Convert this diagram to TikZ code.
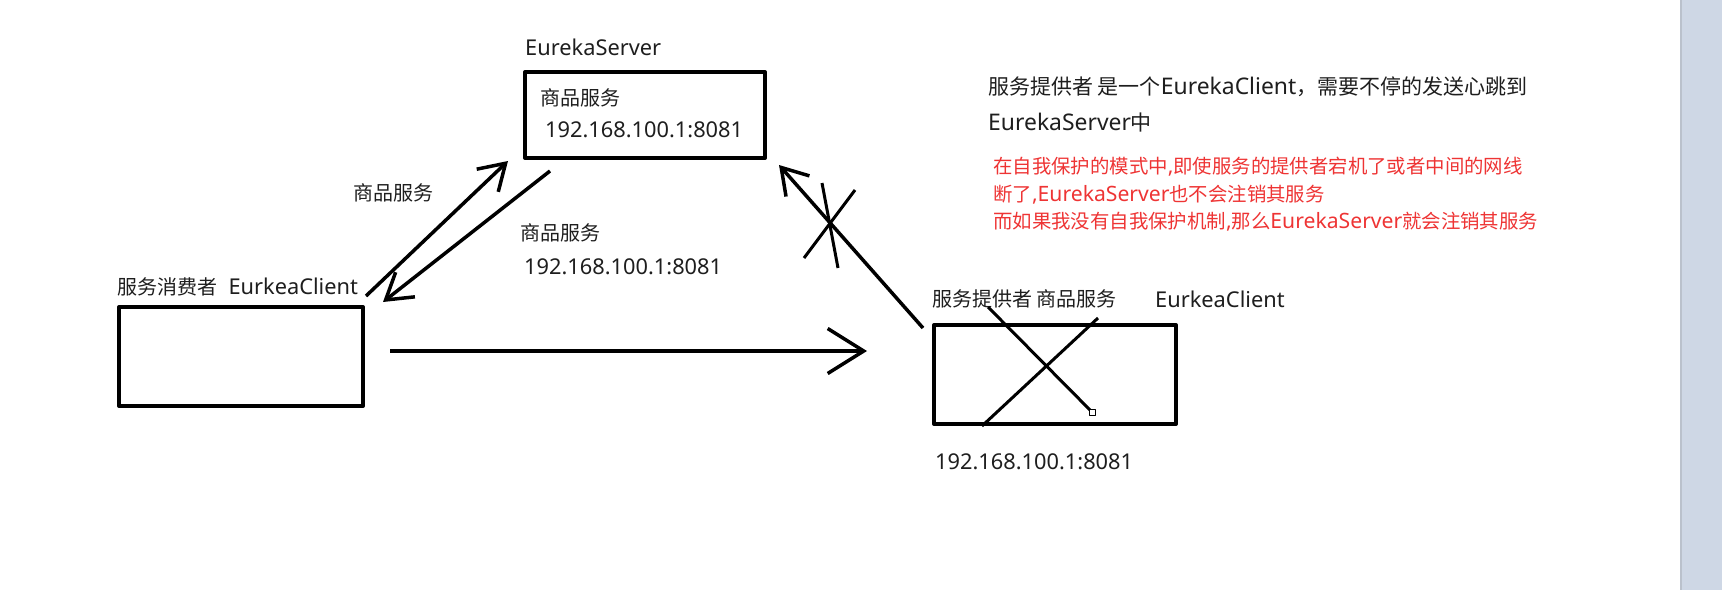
\documentclass[tikz,border=0pt]{standalone}
\usepackage{fontspec}
\setmainfont{Noto Sans}[Scale=1.09]
\newfontfamily\cjk{Noto Sans CJK SC}
\usetikzlibrary{arrows.meta,positioning,calc}
\definecolor{notered}{RGB}{238,52,52}
\definecolor{inkgray}{RGB}{30,30,30}
\definecolor{barblue}{RGB}{206,215,229}
\tikzset{
box/.style={draw=black,line width=4pt,inner sep=0pt},
lbl/.style={anchor=west,inner sep=0pt,text=inkgray,font=\fontsize{20}{24}\selectfont},
note/.style={lbl,font=\fontsize{21}{25}\selectfont},
rednote/.style={lbl,text=notered,font=\fontsize{19.4}{23}\selectfont},
flow/.style={line width=3.5pt,-{Straight Barb[length=#1,width=1.25*#1,line width=3.5pt]}},
flow/.default=25pt,
cross/.style={line width=3pt}
}
\begin{document}
\begin{tikzpicture}[x=1pt,y=-1pt,line join=round]
\useasboundingbox (0,0) rectangle (1722,590);
\fill[barblue] (1681,0) rectangle (1722,590);
\draw[barblue!75!gray,line width=1.5pt] (1681,0)--(1681,590);
% boxes
\node[box,minimum width=240,minimum height=86] (server) at (645,115) {};
\node[box,minimum width=244,minimum height=99] (consumer) at (241,356.5) {};
\node[box,minimum width=242,minimum height=99] (provider) at (1055,374.5) {};
% labels
\node[lbl] (serverlbl) at (525,47) {EurekaServer};
\node[lbl] (srvname) at (540,98) {\cjk 商品服务};
\node[lbl] (srvip) at (545,130) {192.168.100.1:8081};
\node[lbl] (reqlbl) at (353,193) {\cjk 商品服务};
\node[lbl] (resname) at (520,233) {\cjk 商品服务};
\node[lbl] (resip) at (524,267) {192.168.100.1:8081};
\node[lbl] (conslbl) at (117,287) {{\cjk 服务消费者}\ \ EurkeaClient};
\node[lbl] (provlbl) at (932,299) {\cjk 服务提供者 商品服务};
\node[lbl] (provcli) at (1155,299) {EurkeaClient};
\node[lbl] (provip) at (935,462) {192.168.100.1:8081};
\node[note] (info1) at (988,87) {{\cjk 服务提供者 是一个}EurekaClient{\cjk ，需要不停的发送心跳到}};
\node[note] (info2) at (988,123) {EurekaServer{\cjk 中}};
\node[rednote] (warn1) at (993,167) {{\cjk 在自我保护的模式中}{,}{\cjk 即使服务的提供者宕机了或者中间的网线}};
\node[rednote] (warn2) at (993,195) {{\cjk 断了}{,}EurekaServer{\cjk 也不会注销其服务}};
\node[rednote] (warn3) at (993,222) {{\cjk 而如果我没有自我保护机制}{,}{\cjk 那么}EurekaServer{\cjk 就会注销其服务}};
% connectors
\coordinate (a1) at (366,296);
\coordinate (a2) at (508,161);
\coordinate (b1) at (550,171);
\coordinate (b2) at (383,302);
\coordinate (c1) at (390,351);
\coordinate (c2) at (867,351);
\coordinate (d1) at (923,328);
\coordinate (d2) at (779,165);
\draw[flow] (a1)--(a2);
\draw[flow] (b1)--(b2);
\draw[flow=36pt] (c1)--(c2);
\draw[flow] (d1)--(d2);
% crossed out
\draw[cross] (822,183)--(838,268);
\draw[cross] (855,190)--(804,258);
\draw[cross] (988,307)--(1092,412);
\draw[cross] (982,426)--(1098,318);
\draw[line width=1pt,fill=white] (1089,409) rectangle (1095,415);
\end{tikzpicture}
\end{document}
